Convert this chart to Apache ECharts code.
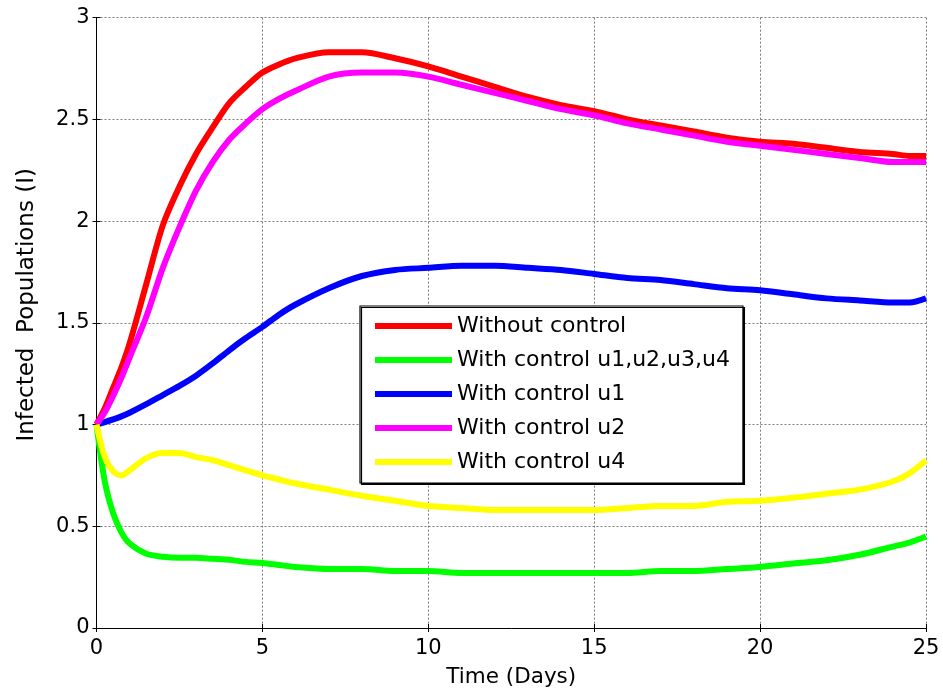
<!DOCTYPE html>
<html>
<head>
<meta charset="utf-8">
<script src="https://cdn.jsdelivr.net/npm/echarts@6/dist/echarts.min.js"></script>
<style>html,body{margin:0;padding:0;background:#fff;}#chart{width:943px;height:698px;}</style>
</head>
<body>
<div id="chart"></div>
<script>
const times = [0,0.25,0.5,0.75,1,1.5,2,2.5,3,3.5,4,4.5,5,5.5,6,7,8,9,10,11,12,13,14,15,16,17,18,19,20,21,22,23,24,24.5,25];
const withoutControl = [1.0,1.08,1.18,1.28,1.40,1.69,1.98,2.17,2.33,2.46,2.58,2.66,2.73,2.77,2.80,2.83,2.83,2.80,2.76,2.71,2.66,2.61,2.57,2.54,2.50,2.47,2.44,2.41,2.39,2.38,2.36,2.34,2.33,2.32,2.32];
const controlAll = [1.0,0.72,0.565,0.47,0.415,0.365,0.35,0.345,0.345,0.34,0.335,0.325,0.32,0.31,0.30,0.29,0.29,0.28,0.28,0.27,0.27,0.27,0.27,0.27,0.27,0.28,0.28,0.29,0.30,0.317,0.333,0.36,0.40,0.42,0.45];
const controlU1 = [1.0,1.012,1.025,1.04,1.058,1.10,1.145,1.19,1.24,1.30,1.365,1.425,1.48,1.54,1.59,1.67,1.73,1.76,1.77,1.78,1.78,1.77,1.76,1.74,1.72,1.71,1.69,1.67,1.66,1.64,1.62,1.61,1.60,1.60,1.62];
const controlU2 = [1.0,1.06,1.14,1.23,1.33,1.53,1.77,1.97,2.15,2.29,2.40,2.48,2.55,2.60,2.64,2.71,2.73,2.73,2.71,2.67,2.63,2.59,2.55,2.52,2.48,2.45,2.42,2.39,2.37,2.35,2.33,2.31,2.29,2.29,2.29];
const controlU4 = [1.0,0.84,0.77,0.75,0.775,0.835,0.86,0.86,0.84,0.825,0.80,0.775,0.75,0.73,0.71,0.68,0.65,0.625,0.60,0.59,0.58,0.58,0.58,0.58,0.59,0.60,0.60,0.62,0.625,0.64,0.66,0.68,0.72,0.76,0.825];
const seriesNames = ['Without control','With control u1,u2,u3,u4','With control u1','With control u2','With control u4'];
const seriesValues = [withoutControl, controlAll, controlU1, controlU2, controlU4];
const seriesColors = ['#ff0000','#00ff00','#0000ff','#ff00ff','#ffff00'];

const FONT = 'DejaVu Sans';
const chart = echarts.init(document.getElementById('chart'), null, {renderer:'canvas'});
const pair = vals => times.map((t,i)=>[t, vals[i]]);

const gridLine = {show:true, lineStyle:{color:'#7a7a7a', width:1, type:[2,2]}};
const tickIn = {show:true, inside:true, length:4, lineStyle:{color:'#000', width:1}};

chart.setOption({
  animation:false,
  backgroundColor:'#fff',
  textStyle:{fontFamily:FONT},
  grid:{left:96.5, right:17, top:17.6, bottom:70, containLabel:false},
  xAxis:[{
    type:'value', min:0, max:25, interval:5,
    name:'Time (Days)', nameLocation:'middle', nameGap:38,
    nameTextStyle:{fontFamily:FONT, fontSize:21.5, color:'#000'},
    axisLine:{show:true, onZero:false, lineStyle:{color:'#000', width:1}},
    axisTick:tickIn,
    axisLabel:{fontFamily:FONT, fontSize:21, color:'#000', margin:10},
    splitLine:gridLine
  },{
    type:'value', min:0, max:25, interval:5, position:'top',
    axisLine:{show:false}, axisTick:tickIn, axisLabel:{show:false}, splitLine:{show:false}
  }],
  yAxis:[{
    type:'value', min:0, max:3, interval:0.5,
    name:'Infected  Populations (I)', nameLocation:'middle', nameGap:58,
    nameTextStyle:{fontFamily:FONT, fontSize:23, color:'#000', padding:[0,0,0,36]},
    axisLine:{show:true, onZero:false, lineStyle:{color:'#000', width:1}},
    axisTick:tickIn,
    axisLabel:{fontFamily:FONT, fontSize:21, color:'#000', margin:7},
    splitLine:gridLine
  },{
    type:'value', min:0, max:3, interval:0.5, position:'right',
    axisLine:{show:false}, axisTick:tickIn, axisLabel:{show:false}, splitLine:{show:false}
  }],
  legend:{
    orient:'vertical', left:360, top:306,
    padding:[9,13,10,15],
    itemGap:12, itemWidth:77, itemHeight:6, icon:'rect',
    backgroundColor:'#fff', borderColor:'#000', borderWidth:1.2, borderRadius:0,
    shadowColor:'rgba(0,0,0,1)', shadowOffsetX:1.5, shadowOffsetY:1.5, shadowBlur:0,
    textStyle:{fontFamily:FONT, fontSize:22, color:'#000', lineHeight:22},
    data:seriesNames
  },
  series: seriesNames.map((n,i)=>({
    name:n, type:'line', data:pair(seriesValues[i]),
    xAxisIndex:0, yAxisIndex:0,
    smooth:0.3, showSymbol:false, symbol:'none',
    itemStyle:{color:seriesColors[i]},
    lineStyle:{color:seriesColors[i], width:6},
    z:2+i
  }))
});
</script>
</body>
</html>
